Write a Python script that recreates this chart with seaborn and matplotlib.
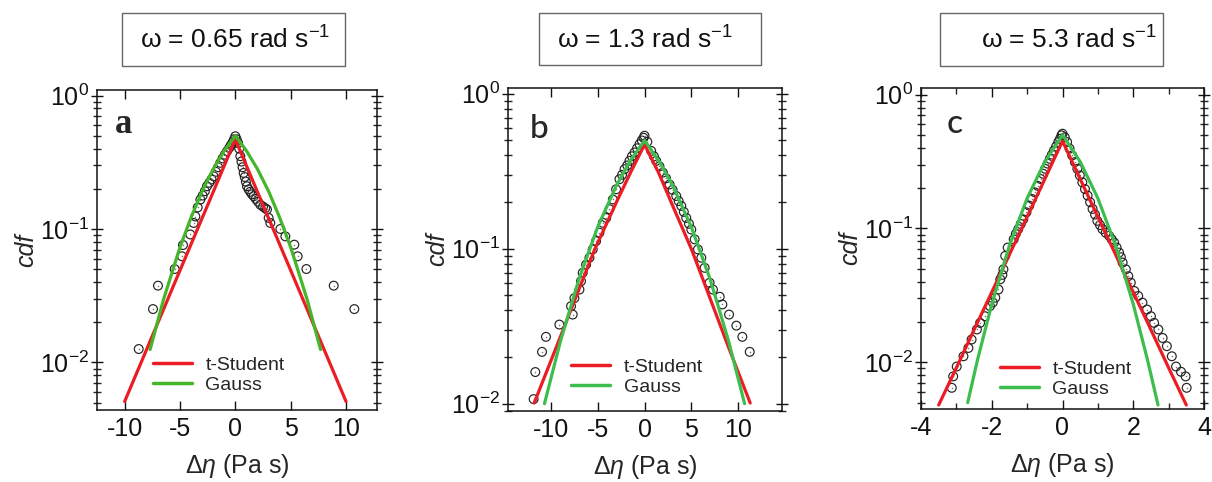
import numpy as np
import pandas as pd
import matplotlib
matplotlib.use("Agg")
import matplotlib.pyplot as plt
import seaborn as sns
from matplotlib.patches import Rectangle
from matplotlib.ticker import LogLocator, FixedLocator, NullFormatter

# ---------------- data ----------------
titles = ["ω = 0.65 rad s$^{-1}$", "ω = 1.3 rad s$^{-1}$", "ω = 5.3 rad s$^{-1}$"]
panel_letters = ["a", "b", "c"]
legend_labels = ["t-Student", "Gauss"]

# panel a
a_pts_x = [-8.73, -7.44, -6.99, -5.48, -4.82, -4.73, -4.07, -3.77, -3.61, -3.40, -3.16, -2.95,
           -2.75, -2.56, -2.35, -2.15, -1.96, -1.75, -1.55, -1.36, -1.15, -0.95, -0.75, -0.55,
           -0.40, -0.25, -0.12, 0.0,
           0.12, 0.25, 0.35, 0.45, 0.55, 0.65, 0.75, 0.85, 0.95, 1.05, 1.2, 1.35, 1.5, 1.66,
           1.85, 2.05, 2.26, 2.5, 2.7, 2.86, 3.01, 3.16, 4.07, 4.52, 5.33, 5.63, 6.42, 8.89, 10.75]
a_pts_y = [0.0126, 0.0251, 0.0376, 0.0501, 0.0624, 0.0758, 0.091, 0.111, 0.124, 0.145, 0.166, 0.178,
           0.192, 0.209, 0.222, 0.235, 0.248, 0.268, 0.290, 0.313, 0.338, 0.360, 0.382, 0.405,
           0.425, 0.445, 0.470, 0.495,
           0.47, 0.44, 0.40, 0.351, 0.32, 0.29, 0.263, 0.245, 0.226, 0.209, 0.198, 0.19, 0.182, 0.176,
           0.168, 0.16, 0.152, 0.147, 0.143, 0.140, 0.121, 0.111, 0.100, 0.088, 0.0763, 0.0624,
           0.0501, 0.0376, 0.0251]
a_red_x = [-10.0, -7.5, -5.0, -2.5, -1.0, 0.0, 1.0, 2.5, 5.0, 7.5, 10.0]
a_red_y = [0.0051, 0.0158, 0.049, 0.151, 0.298, 0.47, 0.298, 0.151, 0.049, 0.0158, 0.0051]
a_green_x = [-7.7, -6.5, -5.0, -4.0, -3.0, -2.0, -1.0, 0.0, 1.0, 2.0, 3.0, 4.0, 5.0, 6.5, 7.7]
a_green_y = [0.0125, 0.0294, 0.073, 0.122, 0.192, 0.281, 0.386, 0.5, 0.386, 0.281, 0.192, 0.122,
             0.073, 0.0294, 0.0125]

# panel b
b_pts_x = [-11.86, -11.68, -10.96, -10.54, -9.11, -7.86, -7.68, -7.5, -6.96, -6.79, -6.61, -6.25,
           -5.89, -5.54, -5.18, -4.82, -4.46, -4.1, -3.75, -3.39, -3.04, -2.68, -2.4, -2.14, -1.85,
           -1.61, -1.35, -1.07, -0.8, -0.54, -0.3, -0.1, 0.0,
           0.3, 0.71, 1.0, 1.25, 1.6, 1.96, 2.3, 2.68, 3.0, 3.39, 3.65, 3.93, 4.2, 4.46, 4.75, 5.0,
           5.36, 5.71, 6.07, 6.43, 6.96, 7.32, 8.04, 8.32, 9.04, 9.82, 10.46, 11.25]
b_pts_y = [0.0107, 0.016, 0.0216, 0.027, 0.0324, 0.0426, 0.0376, 0.048, 0.0545, 0.0618, 0.070, 0.079,
           0.0875, 0.099, 0.112, 0.127, 0.147, 0.158, 0.18, 0.208, 0.242, 0.281, 0.30, 0.326, 0.345,
           0.369, 0.395, 0.418, 0.445, 0.473, 0.50, 0.52, 0.536,
           0.49, 0.428, 0.395, 0.369, 0.34, 0.31, 0.285, 0.26, 0.24, 0.219, 0.203, 0.189, 0.173,
           0.158, 0.145, 0.133, 0.115, 0.099, 0.0875, 0.0753, 0.0603, 0.0545, 0.049, 0.0437,
           0.0376, 0.0319, 0.027, 0.0216]
b_red_x = [-11.8, -9.0, -7.0, -5.3, -3.0, -1.5, 0.0, 1.5, 3.0, 5.0, 7.0, 9.0, 11.3]
b_red_y = [0.0101, 0.027, 0.055, 0.100, 0.200, 0.310, 0.47, 0.310, 0.190, 0.100, 0.048, 0.023,
           0.0101]
b_green_x = [-10.7, -9.0, -7.0, -5.0, -3.0, -1.5, 0.0, 1.5, 3.0, 5.0, 7.0, 9.0, 10.7]
b_green_y = [0.0100, 0.0252, 0.064, 0.1385, 0.257, 0.372, 0.5, 0.372, 0.257, 0.1385, 0.064,
             0.0252, 0.0100]

# panel c
c_pts_x = [-3.13, -3.09, -2.99, -2.80, -2.66, -2.57, -2.42, -2.33, -2.19, -2.05, -1.97, -1.90,
           -1.81, -1.76, -1.70, -1.67, -1.62, -1.55, -1.38, -1.32, -1.25, -1.18, -1.11, -1.02,
           -0.94, -0.86, -0.78, -0.70, -0.62, -0.55, -0.49, -0.42, -0.36, -0.30, -0.24, -0.18,
           -0.12, -0.07, -0.03, 0.0,
           0.065, 0.13, 0.2, 0.275, 0.35, 0.42, 0.49, 0.56, 0.635, 0.71, 0.78, 0.85, 0.92, 0.985,
           1.06, 1.13, 1.22, 1.32, 1.39, 1.46, 1.53, 1.60, 1.65, 1.70, 1.79, 1.86, 1.93, 2.03,
           2.14, 2.26, 2.39, 2.50, 2.59, 2.71, 2.83, 2.95, 3.09, 3.21, 3.35, 3.48, 3.51]
c_pts_y = [0.00645, 0.00785, 0.0093, 0.0111, 0.0128, 0.0148, 0.0176, 0.0197, 0.0221, 0.0263, 0.028,
           0.0304, 0.035, 0.0417, 0.045, 0.0495, 0.0624, 0.072, 0.083, 0.091, 0.099, 0.108, 0.117,
           0.132, 0.148, 0.166, 0.186, 0.208, 0.234, 0.256, 0.279, 0.305, 0.331, 0.356, 0.382,
           0.41, 0.442, 0.468, 0.496, 0.51,
           0.48, 0.442, 0.395, 0.351, 0.313, 0.279, 0.249, 0.221, 0.197, 0.176, 0.157, 0.14, 0.127,
           0.114, 0.106, 0.0989, 0.093, 0.088, 0.083, 0.0785, 0.072, 0.066, 0.061, 0.0556, 0.0495,
           0.044, 0.0394, 0.0341, 0.0313, 0.0279, 0.0248, 0.0221, 0.0197, 0.0176, 0.0152, 0.0132,
           0.0111, 0.0093, 0.0085, 0.00785, 0.00645]
c_red_x = [-3.5, -3.0, -2.5, -2.0, -1.5, -1.0, -0.5, 0.0, 0.5, 1.0, 1.5, 2.0, 2.5, 3.0, 3.5]
c_red_y = [0.0048, 0.0091, 0.0175, 0.0334, 0.0639, 0.122, 0.234, 0.45, 0.234, 0.122, 0.0639,
           0.0334, 0.0175, 0.0091, 0.0048]
c_green_x = [-2.68, -2.4, -2.0, -1.5, -1.0, -0.5, 0.0, 0.5, 1.0, 1.5, 2.0, 2.4, 2.7]
c_green_y = [0.005, 0.0105, 0.0272, 0.0746, 0.168, 0.315, 0.5, 0.315, 0.168, 0.0746, 0.0272,
             0.0105, 0.0048]

pts_x = [a_pts_x, b_pts_x, c_pts_x]
pts_y = [a_pts_y, b_pts_y, c_pts_y]
red_x = [a_red_x, b_red_x, c_red_x]
red_y = [a_red_y, b_red_y, c_red_y]
green_x = [a_green_x, b_green_x, c_green_x]
green_y = [a_green_y, b_green_y, c_green_y]
x_major = [[-10, -5, 0, 5, 10], [-10, -5, 0, 5, 10], [-4, -2, 0, 2, 4]]
x_minor = [[], [], [-3, -1, 1, 3]]

# ---------------- style ----------------
sns.set_theme(style="ticks")
plt.rcParams["font.family"] = ["Liberation Sans", "DejaVu Sans"]
plt.rcParams["mathtext.fontset"] = "custom"
plt.rcParams["mathtext.rm"] = "Liberation Sans"
plt.rcParams["mathtext.it"] = "Liberation Sans:italic"
plt.rcParams["mathtext.default"] = "regular"
plt.rcParams["axes.unicode_minus"] = False

RED = "#ec1c24"
GREEN_A = "#45b52a"
GREEN_BC = "#3dbd4e"
greens = [GREEN_A, GREEN_BC, GREEN_BC]

fig = plt.figure(figsize=(12.12, 4.82), dpi=100)
W, H = 1212, 482

# axes boxes in pixels (left, top, right, bottom)
boxes = [(97, 90, 377, 410), (508, 88, 782, 411), (921, 88, 1204, 409)]
xlims = [(-12.5, 12.8), (-14.6, 14.7), (-4.0, 4.0)]
ylims = [(0.0044, 1.10), (0.00897, 1.09), (0.00448, 1.12)]
legend_anchor = [(0.20, 0.05), (0.23, 0.047), (0.279, 0.034)]
letter_pos = [(0.064, 0.866), (0.08, 0.845), (0.092, 0.86)]
title_boxes = [(122, 13, 345, 66), (539, 13, 761, 65), (940, 13, 1163, 66)]
title_cx = [235, 645, 1069]

for i in range(3):
    l, t, r, b = boxes[i]
    ax = fig.add_axes([l / W, 1 - b / H, (r - l) / W, (b - t) / H])
    ax.set_yscale("log")

    dfp = pd.DataFrame({"x": pts_x[i], "y": pts_y[i]})
    sns.scatterplot(data=dfp, x="x", y="y", ax=ax, marker="o", s=40, linewidth=0.85,
                    color="#333333", zorder=2, legend=False)
    coll = ax.collections[-1]
    coll.set_facecolor("none")
    coll.set_edgecolor("#222222")
    sns.scatterplot(data=dfp, x="x", y="y", ax=ax, marker="o", s=1.2, linewidth=0,
                    color="#777777", zorder=2, legend=False)

    dfr = pd.DataFrame({"x": red_x[i], "y": red_y[i]})
    dfg = pd.DataFrame({"x": green_x[i], "y": green_y[i]})
    sns.lineplot(data=dfr, x="x", y="y", ax=ax, color=RED, lw=2.3, sort=False,
                 estimator=None, label=legend_labels[0], zorder=3)
    sns.lineplot(data=dfg, x="x", y="y", ax=ax, color=greens[i], lw=2.3, sort=False,
                 estimator=None, label=legend_labels[1], zorder=3)

    ax.set_xlim(*xlims[i])
    ax.set_ylim(*ylims[i])
    ax.xaxis.set_major_locator(FixedLocator(x_major[i]))
    ax.xaxis.set_minor_locator(FixedLocator(x_minor[i]))
    ax.yaxis.set_major_locator(LogLocator(base=10, numticks=10))
    ax.yaxis.set_minor_locator(LogLocator(base=10, subs=np.arange(2, 10), numticks=20))
    ax.yaxis.set_minor_formatter(NullFormatter())

    for sp in ax.spines.values():
        sp.set_visible(True)
        sp.set_linewidth(1.1)
        sp.set_color("#111111")

    ax.tick_params(axis="x", which="major", direction="in", top=True, bottom=True,
                   length=6.5, width=1.0, labelsize=18, pad=5, colors="#111111")
    ax.tick_params(axis="x", which="minor", direction="in", top=True, bottom=True,
                   length=4, width=1.0)
    ax.tick_params(axis="y", which="major", direction="inout", left=True, right=True,
                   length=8, width=1.0, labelsize=18, pad=2, colors="#111111")
    ax.tick_params(axis="y", which="minor", direction="inout", left=True, right=True,
                   length=6, width=1.0)
    ax.tick_params(labelcolor="#111111")

    ax.set_xlabel("$\\mathit{Δη}$ (Pa s)", fontsize=18, labelpad=8)
    ax.set_ylabel("cdf", fontsize=18, style="italic", labelpad=1)

    leg = ax.legend(loc="lower left", bbox_to_anchor=legend_anchor[i], frameon=False,
                    fontsize=14, handlelength=2.0, handletextpad=0.7, labelspacing=0.12,
                    borderpad=0, borderaxespad=0)
    for h in leg.get_lines():
        h.set_linewidth(2.5)

    if i == 0:
        ax.text(*letter_pos[i], panel_letters[i], transform=ax.transAxes, fontsize=25,
                fontweight="bold", family=["Liberation Serif", "DejaVu Serif"], va="baseline")
    else:
        ax.text(*letter_pos[i], panel_letters[i], transform=ax.transAxes, fontsize=24,
                family=["Lato", "DejaVu Sans"], fontweight="medium", va="baseline")

    # boxed title
    x0, y0, x1, y1 = title_boxes[i]
    fig.patches.append(Rectangle((x0 / W, 1 - y1 / H), (x1 - x0) / W, (y1 - y0) / H,
                                 transform=fig.transFigure, fill=False, edgecolor="#666666",
                                 linewidth=1.0))
    fig.text(title_cx[i] / W, 1 - 49 / H, titles[i], fontsize=19, ha="center",
             va="baseline", color="#111111")

fig.savefig("out.png", dpi=100)
